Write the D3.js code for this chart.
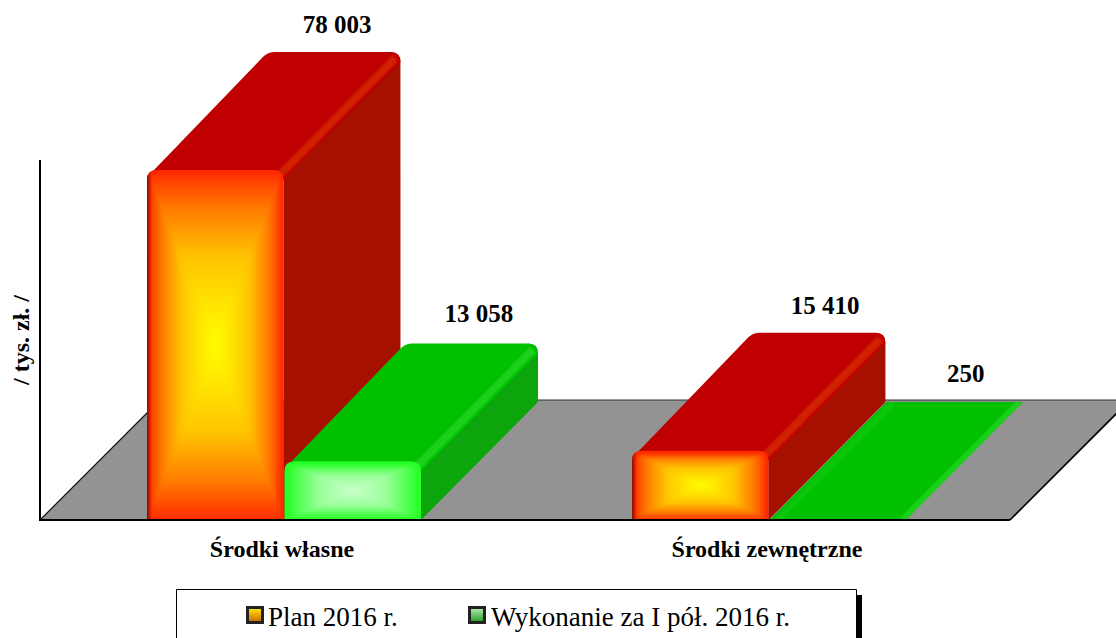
<!DOCTYPE html>
<html><head><meta charset="utf-8">
<script src="https://cdn.jsdelivr.net/npm/d3@7/dist/d3.min.js"></script>
<style>html,body{margin:0;padding:0;background:#fff;overflow:hidden}svg{display:block}text{font-family:"Liberation Serif","Times New Roman",serif}</style>
</head><body><div id="c"></div>
<script>
const categories = ["Środki własne", "Środki zewnętrzne"];
const seriesNames = ["Plan 2016 r.", "Wykonanie za I pół. 2016 r."];
const plan = [78003, 15410];
const wykonanie = [13058, 250];
const valueLabels = [["78 003", "15 410"], ["13 058", "250"]];
const labelShift = [[5, 8], [9, 11]];
const labelLift = [[19, 19], [21, 19]];
const axisTitle = "/ tys. zł. /";

const W = 1116, H = 638, baseY = 520, dx = 117, dy = -118;
const palettes = [
  {stops:[[0,"#ffff00"],[0.5,"#ffc400"],[0.78,"#ff7a00"],[1,"#ff2c00"]], top:"#c00000", side:"#a51000", hl:"#d02000", rim:"#ff2400"},
  {stops:[[0,"#ccffcc"],[0.5,"#99ff99"],[0.78,"#55ff55"],[1,"#22ff22"]], top:"#00c000", side:"#0ca50c", hl:"#1cd01c", rim:"#22ff22"}
];
const svg = d3.select("#c").append("svg").attr("width", W).attr("height", H);
const defs = svg.append("defs");
defs.append("filter").attr("id","blur").append("feGaussianBlur").attr("stdDeviation",2.2);
defs.append("filter").attr("id","blur2").append("feGaussianBlur").attr("stdDeviation",1.3);
defs.append("filter").attr("id","blur3").append("feGaussianBlur").attr("stdDeviation",1);

const x0 = d3.scaleBand().domain(categories).range([147, 906]).paddingInner(0.435);
const x1 = d3.scaleBand().domain(seriesNames).range([0, x0.bandwidth()]).paddingInner(0.008);
const y = d3.scaleLinear().domain([0, 78003]).range([baseY, 170]);

// floor
svg.append("path").attr("d", d3.line()([[40,baseY],[160,400],[1130,400],[1010,baseY]])+"Z").attr("fill","#939393");
svg.append("path").attr("d", d3.line()([[160,400],[1116,400]])).attr("stroke","#333").attr("stroke-width",1).attr("fill","none");
svg.append("path").attr("d", d3.line()([[40,baseY],[160,400]])).attr("stroke","#111").attr("stroke-width",1.2).attr("fill","none");
svg.append("path").attr("d", d3.line()([[1010,baseY],[1130,400]])).attr("stroke","#000").attr("stroke-width",1.6).attr("fill","none");

function linGrad(id, x1_, y1_, x2_, y2_, stops){
  const g = defs.append("linearGradient").attr("id",id).attr("gradientUnits","userSpaceOnUse")
    .attr("x1",x1_).attr("y1",y1_).attr("x2",x2_).attr("y2",y2_);
  stops.forEach(s=>g.append("stop").attr("offset",s[0]).attr("stop-color",s[1]).attr("stop-opacity",s.length>2?s[2]:1));
  return `url(#${id})`;
}

function bar(si, ci, v){
  const p = palettes[si];
  const cat = categories[ci];
  const l = x0(cat) + x1(seriesNames[si]);
  const r = l + x1.bandwidth();
  const t = y(v);
  const h = baseY - t;
  const R = Math.min(10, h);
  const g = svg.append("g");
  const clipTop = `ct${si}${ci}`;
  // side face
  const side = d3.path();
  side.moveTo(r, t + R*0.3);
  side.lineTo(r+dx-R, t+dy);
  side.quadraticCurveTo(r+dx, t+dy, r+dx, t+dy+R);
  side.lineTo(r+dx, baseY+dy);
  side.lineTo(r, baseY);
  side.closePath();
  if (h > 3) g.append("path").attr("d", side.toString()).attr("fill", p.side);
  // top face
  const top = d3.path();
  top.moveTo(l, t + R);
  top.quadraticCurveTo(l, t+R*0.3, l+R*0.7, t);
  top.lineTo(l+dx-R*0.3, t+dy+R*0.7);
  top.quadraticCurveTo(l+dx+R*0.3, t+dy, l+dx+R, t+dy);
  top.lineTo(r+dx-R, t+dy);
  top.quadraticCurveTo(r+dx, t+dy, r+dx, t+dy+R);
  top.lineTo(r, t+R);
  top.closePath();
  if (h > 3) {
    g.append("path").attr("d", top.toString()).attr("fill", p.top);
    g.append("path").attr("d", d3.line()([[r-3,t+4],[r+dx-5,t+dy+6]]))
      .attr("stroke",p.hl).attr("stroke-width",8).attr("fill","none").attr("filter","url(#blur2)");
  } else {
    const flat = d3.line()([[l,t+1],[l+dx,t+dy+1],[r+dx,t+dy+1],[r,t+1]])+"Z";
    g.append("path").attr("d", flat).attr("fill", p.top);
    defs.append("clipPath").attr("id",clipTop).append("path").attr("d",flat);
    const fg = g.append("g").attr("clip-path",`url(#${clipTop})`);
    fg.append("path").attr("d", d3.line()([[r-3,t+1],[r+dx-3,t+dy+1]]))
      .attr("stroke",p.hl).attr("stroke-width",7).attr("fill","none").attr("filter","url(#blur3)");
    fg.append("path").attr("d", d3.line()([[l+8,t+1],[l+dx+8,t+dy+1]]))
      .attr("stroke",p.hl).attr("stroke-width",6).attr("fill","none").attr("filter","url(#blur2)").attr("opacity",.45);
    return;
  }
  // front face: rectangular gradient from the centre made of four triangles
  const cx = (l+r)/2, cy = (t+baseY)/2, id = `f${si}${ci}`;
  const clipId = "clip"+id;
  const bp = d3.path();
  bp.moveTo(l, baseY);
  bp.lineTo(l, t+R);
  bp.quadraticCurveTo(l, t, l+R, t);
  bp.lineTo(r-R, t);
  bp.quadraticCurveTo(r, t, r, t+R);
  bp.lineTo(r, baseY);
  bp.closePath();
  defs.append("clipPath").attr("id",clipId).append("path").attr("d",bp.toString());
  const face = g.append("g").attr("clip-path",`url(#${clipId})`);
  face.append("rect").attr("x",l).attr("y",t).attr("width",r-l).attr("height",h).attr("fill",p.rim);
  const tg = face.append("g").attr("filter","url(#blur3)");
  const tris = [
    [[l,t],[cx,cy],[l,baseY], linGrad(id+"l",cx,0,l,0,p.stops)],
    [[r,t],[cx,cy],[r,baseY], linGrad(id+"r",cx,0,r,0,p.stops)],
    [[l,t],[cx,cy],[r,t], linGrad(id+"t",0,cy,0,t,p.stops)],
    [[l,baseY],[cx,cy],[r,baseY], linGrad(id+"b",0,cy,0,baseY,p.stops)]
  ];
  tris.forEach(a=>tg.append("path").attr("d",d3.line()(a.slice(0,3))+"Z").attr("fill",a[3]).attr("stroke",a[3]).attr("stroke-width",.6));
  // bevel rim
  face.append("rect").attr("x",l).attr("y",t+1).attr("width",r-l).attr("height",h+10).attr("rx",8)
    .attr("fill","none").attr("stroke",p.rim).attr("stroke-width",5).attr("opacity",.8).attr("filter","url(#blur)");
  if (si === 0) {
    face.append("rect").attr("x",l).attr("y",t).attr("width",5).attr("height",h)
      .attr("fill",linGrad(id+"d",l,0,l+5,0,[[0,"#6a1000",.9],[1,"#c00000",0]]));
  }
}

categories.forEach((c,ci)=>{ bar(0,ci,plan[ci]); bar(1,ci,wykonanie[ci]); });

// vertical + base axis
svg.append("path").attr("d", d3.line()([[40,160],[40,baseY],[1010,baseY]])).attr("stroke","#000").attr("stroke-width",2).attr("fill","none");

// value labels
[plan, wykonanie].forEach((arr,si)=>arr.forEach((v,ci)=>{
  const cx = x0(categories[ci]) + x1(seriesNames[si]) + x1.bandwidth()/2 + dx + labelShift[si][ci];
  svg.append("text").attr("x",cx).attr("y",y(v)+dy-labelLift[si][ci]).attr("text-anchor","middle")
    .attr("font-size",25).attr("font-weight","bold").attr("fill","#000").text(valueLabels[si][ci]);
}));
// category labels
categories.forEach(c=>{
  svg.append("text").attr("x",x0(c)+x0.bandwidth()/2-2).attr("y",557).attr("text-anchor","middle")
    .attr("font-size",24).attr("font-weight","bold").attr("fill","#000").text(c);
});
// axis title
svg.append("text").attr("transform","translate(29,340) rotate(-90)").attr("text-anchor","middle")
  .attr("font-size",24).attr("font-weight","bold").attr("fill","#000").text(axisTitle);

// legend
svg.append("rect").attr("x",856).attr("y",595).attr("width",6).attr("height",43).attr("fill","#000");
svg.append("path").attr("d",d3.line()([[176.5,638],[176.5,589.5],[856.5,589.5],[856.5,638]])).attr("stroke","#000").attr("stroke-width",1).attr("fill","none");
const legendX = [246, 468], textX = [268, 491];
seriesNames.forEach((s,i)=>{
  const g = svg.append("g");
  const X = legendX[i], Y = 606, S = 18;
  g.append("rect").attr("x",X).attr("y",Y).attr("width",S).attr("height",S).attr("fill","#222");
  g.append("rect").attr("x",X+3).attr("y",Y+3).attr("width",S-6).attr("height",S-6)
    .attr("fill",i===0?linGrad("lg0",0,Y+3,0,Y+S-3,[[0,"#ffe000"],[1,"#d07000"]]):linGrad("lg1",0,Y+3,0,Y+S-3,[[0,"#a8e8a8"],[1,"#30a030"]]));
  svg.append("text").attr("x",textX[i]).attr("y",626).attr("font-size",27).attr("fill","#000").text(s);
});
</script></body></html>
